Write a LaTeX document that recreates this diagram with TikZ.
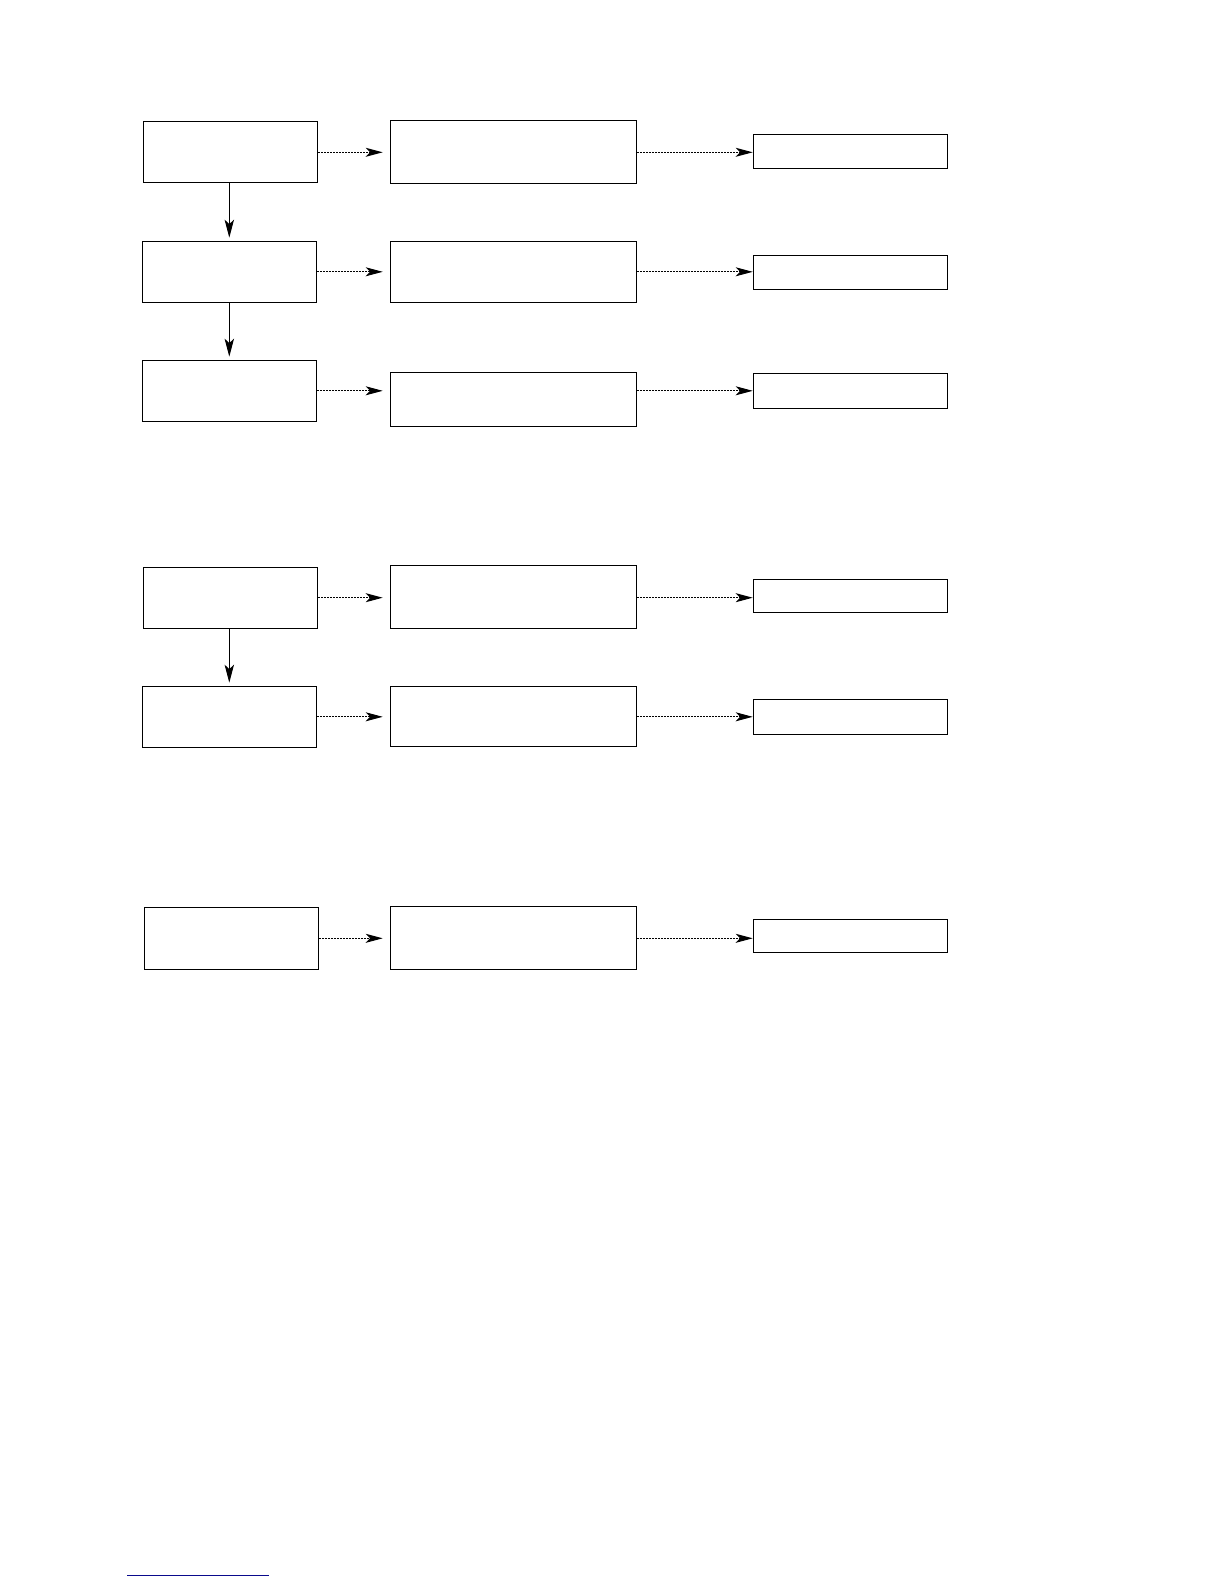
\documentclass[tikz,border=0pt]{standalone}
\usetikzlibrary{arrows.meta}
\definecolor{linkblue}{RGB}{10,10,140}
\begin{document}
\begin{tikzpicture}[x=0.5pt,y=-0.5pt,
    lbox/.style={draw,line width=0.6pt,inner sep=0pt,minimum width=87pt,minimum height=30.5pt},
    mbox/.style={draw,line width=0.6pt,inner sep=0pt,minimum width=123pt,minimum height=31.5pt},
    rbox/.style={draw,line width=0.6pt,inner sep=0pt,minimum width=97pt,minimum height=17pt},
    down/.style={line width=0.5pt,-{Stealth[length=9pt,width=4.7pt,inset=2.2pt]},shorten >=1.5pt},
    dots/.style={line width=0.5pt,dash pattern=on 0.9pt off 0.6pt,-{Stealth[length=8.5pt,width=4.5pt,inset=2.2pt]}}]

       \useasboundingbox (0,0) rectangle (1224,1584);

       \node[lbox] (a1) at (230.8, 152.3) {};
       \node[lbox] (a2) at (229.3, 271.8) {};
       \node[lbox] (a3) at (229.3, 390.8) {};
       \node[lbox] (a4) at (230.8, 597.7) {};
       \node[lbox] (a5) at (229.3, 716.8) {};
       \node[lbox,minimum height=31pt] (a6) at (231.3, 938.3) {};

       \node[mbox] (b1) at (513.3, 151.7) {};
       \node[mbox,minimum height=30.5pt] (b2) at (513.3, 271.8) {};
       \node[mbox,minimum height=27pt] (b3) at (513.3, 399.2) {};
       \node[mbox] (b4) at (513.3, 596.8) {};
       \node[mbox,minimum height=30pt] (b5) at (513.3, 716.3) {};
       \node[mbox] (b6) at (513.3, 937.7) {};

       \node[rbox] (c1) at (850.3, 151.3) {};
       \node[rbox] (c2) at (850.3, 272.3) {};
       \node[rbox,minimum height=17.5pt] (c3) at (850.3, 390.8) {};
       \node[rbox,minimum height=16.5pt] (c4) at (850.3, 595.8) {};
       \node[rbox,minimum height=17.5pt] (c5) at (850.3, 716.8) {};
       \node[rbox,minimum height=16.8pt] (c6) at (850.3, 936) {};

       \draw[down] (a2.north |- a1.south) -- (a2.north);
       \draw[down] (a2.south) -- (a3.north);
       \draw[down] (a5.north |- a4.south) -- (a5.north);

       \draw[dots,shorten >=3.5pt] (a1.east) -- (a1.east -| b1.west);
       \draw[dots,shorten >=3.5pt] (a2.east) -- (a2.east -| b2.west);
       \draw[dots,shorten >=3.5pt] (a3.east) -- (a3.east -| b3.west);
       \draw[dots,shorten >=3.5pt] (a4.east) -- (a4.east -| b4.west);
       \draw[dots,shorten >=3.5pt] (a5.east) -- (a5.east -| b5.west);
       \draw[dots,shorten >=3.5pt] (a6.east) -- (a6.east -| b6.west);

       \draw[dots] (b1.east |- a1.east) -- (a1.east -| c1.west);
       \draw[dots] (b2.east |- a2.east) -- (a2.east -| c2.west);
       \draw[dots] (b3.east |- a3.east) -- (a3.east -| c3.west);
       \draw[dots] (b4.east |- a4.east) -- (a4.east -| c4.west);
       \draw[dots] (b5.east |- a5.east) -- (a5.east -| c5.west);
       \draw[dots] (b6.east |- a6.east) -- (a6.east -| c6.west);

       \draw[linkblue,line width=0.75pt] (127, 1575.3) -- (269, 1575.3);
     \end{tikzpicture}
\end{document}
